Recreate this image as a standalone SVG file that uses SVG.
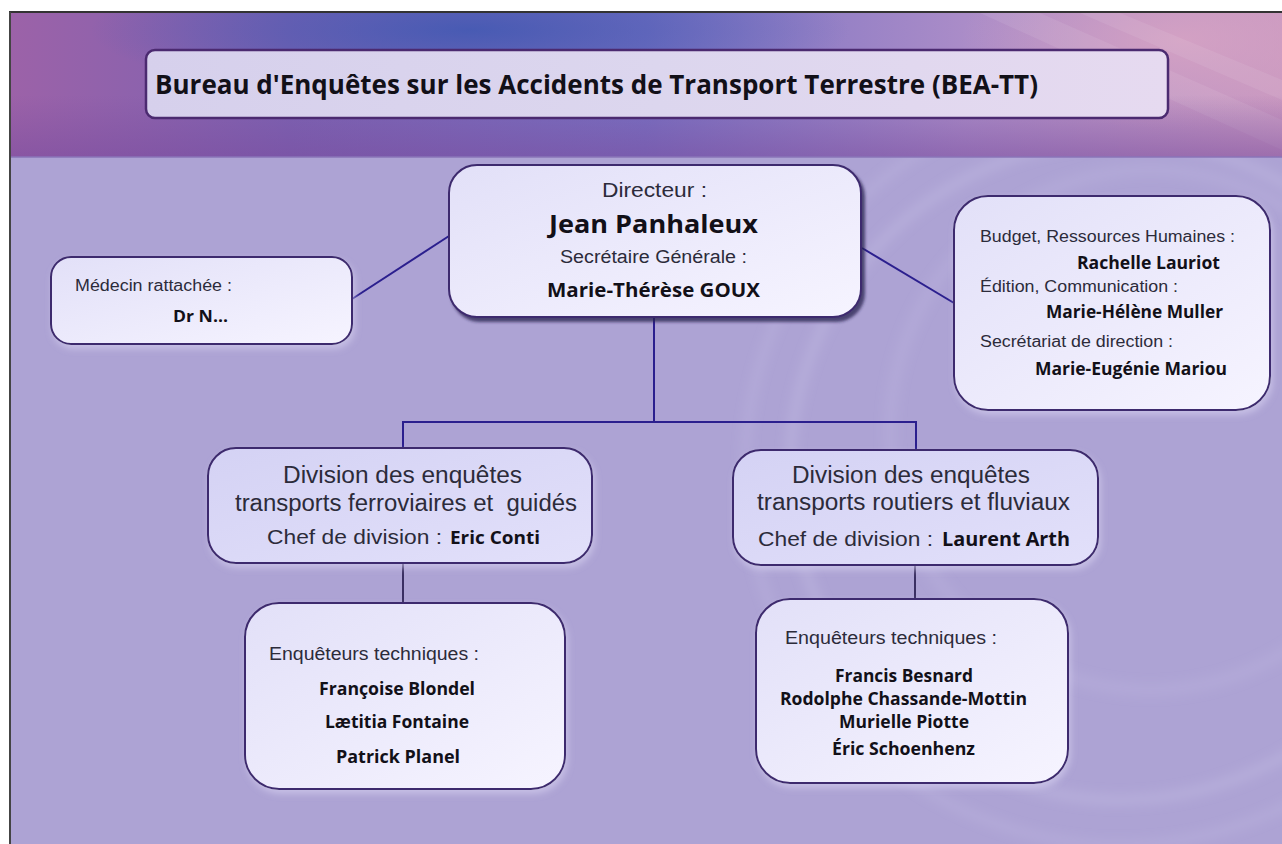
<svg xmlns="http://www.w3.org/2000/svg" width="1282" height="844" viewBox="0 0 1282 844">
<style>
.reg{font-family:"Liberation Sans",Arial,sans-serif;fill:#2c2b3a}
.bold{font-family:"Open Sans","Noto Sans",sans-serif;font-weight:700;fill:#121018}
.node{stroke:#3e2a6e;stroke-width:2}
.conn{fill:none;stroke:#2b1f8e;stroke-width:2}
.conn2{fill:none;stroke:#3a2f62;stroke-width:2}
</style>
<defs>
<clipPath id="hdrclip"><rect x="10" y="13" width="1272" height="144"/></clipPath>
<clipPath id="bgclip"><rect x="10" y="13" width="1272" height="831"/></clipPath>
<linearGradient id="hdr" x1="0" y1="0" x2="1" y2="0">
<stop offset="0" stop-color="#9c62a8"/>
<stop offset="0.22" stop-color="#7c62b2"/>
<stop offset="0.5" stop-color="#7870c2"/>
<stop offset="0.75" stop-color="#aa8cc8"/>
<stop offset="1" stop-color="#c898c0"/>
</linearGradient>
<radialGradient id="blueglow" cx="0.5" cy="0.5" r="0.5">
<stop offset="0" stop-color="#3f58b2" stop-opacity="0.85"/>
<stop offset="1" stop-color="#3f58b2" stop-opacity="0"/>
</radialGradient>
<radialGradient id="pinkglow" cx="0.5" cy="0.5" r="0.5">
<stop offset="0" stop-color="#d8a4c4" stop-opacity="0.8"/>
<stop offset="1" stop-color="#d8a4c4" stop-opacity="0"/>
</radialGradient>
<linearGradient id="hdrbot" x1="0" y1="0" x2="0" y2="1">
<stop offset="0" stop-color="#7a4c9e" stop-opacity="0"/>
<stop offset="1" stop-color="#7a4c9e" stop-opacity="0.55"/>
</linearGradient>
<linearGradient id="titlefill" x1="0" y1="0" x2="1" y2="0">
<stop offset="0" stop-color="#d6d0ec"/>
<stop offset="0.5" stop-color="#dcd6ee"/>
<stop offset="1" stop-color="#e6daf0"/>
</linearGradient>
<linearGradient id="nodefill" x1="0" y1="0" x2="1" y2="1">
<stop offset="0" stop-color="#e2e0f8"/>
<stop offset="1" stop-color="#f6f4ff"/>
</linearGradient>
<linearGradient id="divfill" x1="0" y1="0" x2="1" y2="1">
<stop offset="0" stop-color="#d4d2f4"/>
<stop offset="1" stop-color="#e2e0fa"/>
</linearGradient>
<filter id="shDark" x="-10%" y="-10%" width="125%" height="130%">
<feDropShadow dx="3" dy="4" stdDeviation="1.5" flood-color="#2a2050" flood-opacity="0.75"/>
</filter>
<filter id="shSoft" x="-10%" y="-10%" width="125%" height="130%">
<feDropShadow dx="2" dy="4" stdDeviation="3" flood-color="#d6d0f0" flood-opacity="0.6"/>
</filter>
<filter id="blur8"><feGaussianBlur stdDeviation="6"/></filter>
</defs>

<g id="background">
<rect x="0" y="0" width="1282" height="844" fill="#ffffff"/>
<rect x="10" y="13" width="1272" height="831" fill="#ada3d4"/>
<g clip-path="url(#bgclip)">
<g filter="url(#blur8)" fill="none" stroke="#cfc8ec" stroke-opacity="0.35">
<circle cx="1120" cy="470" r="330" stroke-width="8"/>
<circle cx="1120" cy="470" r="375" stroke-width="5"/>
<circle cx="1150" cy="430" r="260" stroke-width="10" stroke-opacity="0.2"/>
</g>
</g>
<g clip-path="url(#hdrclip)">
<rect x="10" y="13" width="1272" height="144" fill="url(#hdr)"/>
<ellipse cx="470" cy="30" rx="380" ry="70" fill="url(#blueglow)"/>
<ellipse cx="1180" cy="40" rx="220" ry="90" fill="url(#pinkglow)"/>
<g fill="#ffffff" fill-opacity="0.08">
<polygon points="980,13 1040,13 1282,120 1282,150"/>
<polygon points="1080,13 1120,13 1282,80 1282,100"/>
</g>
<rect x="10" y="95" width="1272" height="62" fill="url(#hdrbot)"/>
</g>
<line x1="10" y1="157" x2="1282" y2="157" stroke="#8a74b8" stroke-width="1.5"/>
<line x1="9" y1="12" x2="1282" y2="12" stroke="#333" stroke-width="2"/>
<line x1="10" y1="12" x2="10" y2="844" stroke="#444" stroke-width="2"/>
</g>

<g id="title">
<rect x="146" y="50" width="1022" height="68" rx="9" fill="url(#titlefill)" stroke="#4b2a70" stroke-width="2.5"/>
<text class="bold" x="155" y="94" font-size="27" textLength="883" lengthAdjust="spacingAndGlyphs">Bureau d'Enquêtes sur les Accidents de Transport Terrestre (BEA-TT)</text>
</g>

<g id="connectors">
<line class="conn" x1="352" y1="299" x2="449" y2="236"/>
<line class="conn" x1="862" y1="248" x2="954" y2="303"/>
<polyline class="conn" points="654,318 654,422"/>
<polyline class="conn" points="403,448 403,422 916,422 916,450"/>
<line class="conn2" x1="403" y1="563" x2="403" y2="603"/>
<line class="conn2" x1="915" y1="565" x2="915" y2="599"/>
</g>

<g id="directeur">
<rect class="node" x="449" y="165" width="412" height="152" rx="28" fill="url(#nodefill)" filter="url(#shDark)"/>
<text class="reg" x="602" y="197" font-size="20" textLength="105" lengthAdjust="spacingAndGlyphs">Directeur :</text>
<text class="bold" x="549" y="233" font-size="25" textLength="209" lengthAdjust="spacingAndGlyphs">Jean Panhaleux</text>
<text class="reg" x="560" y="263" font-size="18" textLength="187" lengthAdjust="spacingAndGlyphs">Secrétaire Générale :</text>
<text class="bold" x="547" y="297" font-size="20" textLength="213" lengthAdjust="spacingAndGlyphs">Marie-Thérèse GOUX</text>
</g>

<g id="medecin">
<rect class="node" x="51" y="257" width="301" height="87" rx="20" fill="url(#nodefill)" filter="url(#shSoft)"/>
<text class="reg" x="75" y="291" font-size="16" textLength="157" lengthAdjust="spacingAndGlyphs">Médecin rattachée :</text>
<text class="bold" x="173" y="322" font-size="16" textLength="55" lengthAdjust="spacingAndGlyphs">Dr N...</text>
</g>

<g id="services">
<rect class="node" x="954" y="196" width="316" height="214" rx="34" fill="url(#nodefill)" filter="url(#shSoft)"/>
<text class="reg" x="980" y="242" font-size="16" textLength="255" lengthAdjust="spacingAndGlyphs">Budget, Ressources Humaines :</text>
<text class="bold" x="1077" y="269" font-size="18" textLength="143" lengthAdjust="spacingAndGlyphs">Rachelle Lauriot</text>
<text class="reg" x="980" y="292" font-size="16" textLength="198" lengthAdjust="spacingAndGlyphs">Édition, Communication :</text>
<text class="bold" x="1046" y="318" font-size="18" textLength="177" lengthAdjust="spacingAndGlyphs">Marie-Hélène Muller</text>
<text class="reg" x="980" y="347" font-size="16" textLength="193" lengthAdjust="spacingAndGlyphs">Secrétariat de direction :</text>
<text class="bold" x="1035" y="375" font-size="18" textLength="192" lengthAdjust="spacingAndGlyphs">Marie-Eugénie Mariou</text>
</g>

<g id="division-ferroviaire">
<rect class="node" x="208" y="448" width="384" height="115" rx="28" fill="url(#divfill)" filter="url(#shSoft)"/>
<text class="reg" x="283" y="483" font-size="23" textLength="239" lengthAdjust="spacingAndGlyphs">Division des enquêtes</text>
<text class="reg" x="235" y="511" font-size="23" textLength="342" lengthAdjust="spacingAndGlyphs" xml:space="preserve">transports ferroviaires et  guidés</text>
<text class="reg" x="267" y="544" font-size="21" textLength="175" lengthAdjust="spacingAndGlyphs">Chef de division :</text>
<text class="bold" x="450" y="544" font-size="17" textLength="90" lengthAdjust="spacingAndGlyphs">Eric Conti</text>
</g>

<g id="division-routiere">
<rect class="node" x="733" y="450" width="365" height="115" rx="28" fill="url(#divfill)" filter="url(#shSoft)"/>
<text class="reg" x="792" y="483" font-size="23" textLength="238" lengthAdjust="spacingAndGlyphs">Division des enquêtes</text>
<text class="reg" x="757" y="510" font-size="23" textLength="313" lengthAdjust="spacingAndGlyphs">transports routiers et fluviaux</text>
<text class="reg" x="758" y="546" font-size="21" textLength="175" lengthAdjust="spacingAndGlyphs">Chef de division :</text>
<text class="bold" x="942" y="546" font-size="20" textLength="128" lengthAdjust="spacingAndGlyphs">Laurent Arth</text>
</g>

<g id="enqueteurs-ferroviaire">
<rect class="node" x="245" y="603" width="320" height="186" rx="34" fill="url(#nodefill)" filter="url(#shSoft)"/>
<text class="reg" x="269" y="660" font-size="18" textLength="210" lengthAdjust="spacingAndGlyphs">Enquêteurs techniques :</text>
<text class="bold" x="319" y="695" font-size="18" textLength="156" lengthAdjust="spacingAndGlyphs">Françoise Blondel</text>
<text class="bold" x="325" y="728" font-size="18" textLength="144" lengthAdjust="spacingAndGlyphs">Lætitia Fontaine</text>
<text class="bold" x="336" y="763" font-size="18" textLength="124" lengthAdjust="spacingAndGlyphs">Patrick Planel</text>
</g>

<g id="enqueteurs-routiere">
<rect class="node" x="756" y="599" width="312" height="184" rx="34" fill="url(#nodefill)" filter="url(#shSoft)"/>
<text class="reg" x="785" y="644" font-size="18" textLength="212" lengthAdjust="spacingAndGlyphs">Enquêteurs techniques :</text>
<text class="bold" x="835" y="682" font-size="18" textLength="138" lengthAdjust="spacingAndGlyphs">Francis Besnard</text>
<text class="bold" x="780" y="705" font-size="18" textLength="247" lengthAdjust="spacingAndGlyphs">Rodolphe Chassande-Mottin</text>
<text class="bold" x="839" y="728" font-size="18" textLength="130" lengthAdjust="spacingAndGlyphs">Murielle Piotte</text>
<text class="bold" x="832" y="755" font-size="18" textLength="143" lengthAdjust="spacingAndGlyphs">Éric Schoenhenz</text>
</g>
</svg>
